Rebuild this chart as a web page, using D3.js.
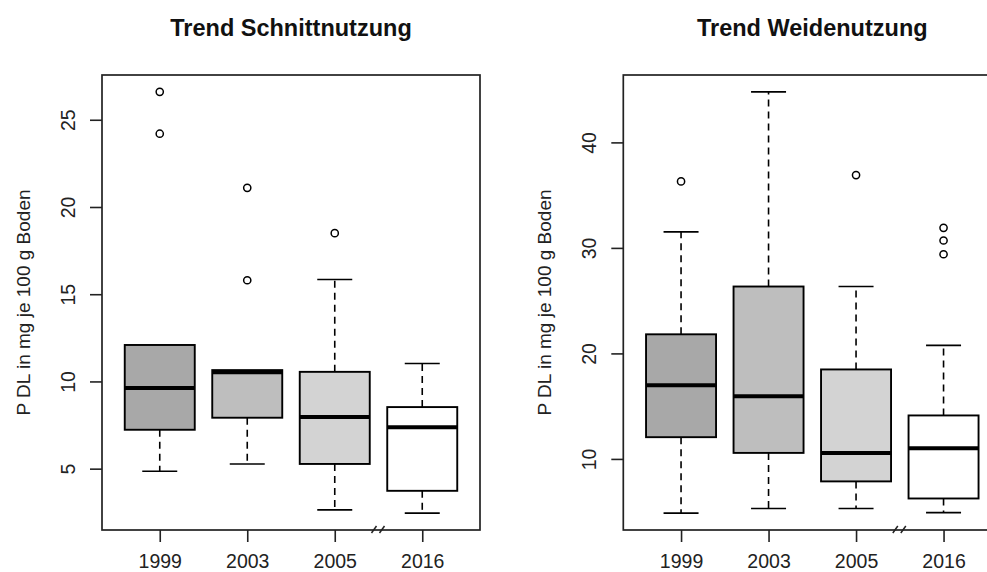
<!DOCTYPE html>
<html>
<head>
<meta charset="utf-8">
<script src="https://cdn.jsdelivr.net/npm/d3@7"></script>
<style>
  body { margin: 0; background: #fff; }
  svg { display: block; font-family: "Liberation Sans", Arial, sans-serif; }
</style>
</head>
<body>
<script>
// years on the x axis
const years = ["1999", "2003", "2005", "2016"]
const boxFill = ["#a8a8a8", "#bebebe", "#d3d3d3", "#ffffff"]

// Schnittnutzung (left)
const schnittLow  = [4.85, 5.27, 2.64, 2.45]
const schnittQ1   = [7.23, 7.92, 5.27, 3.73]
const schnittMed  = [9.63, 10.52, 7.96, 7.38]
const schnittQ3   = [12.09, 10.65, 10.55, 8.53]
const schnittHigh = [12.09, 10.65, 15.84, 11.03]
const schnittOut  = [[26.6, 24.2], [21.1, 15.8], [18.5], []]
const schnittTicks = [5, 10, 15, 20, 25]

// Weidenutzung (right)
const weideLow  = [4.86, 5.3, 5.3, 4.91]
const weideQ1   = [12.06, 10.57, 7.87, 6.25]
const weideMed  = [16.98, 15.93, 10.57, 11.01]
const weideQ3   = [21.81, 26.34, 18.48, 14.12]
const weideHigh = [31.52, 44.79, 26.34, 20.76]
const weideOut  = [[36.3], [], [36.9], [31.9, 30.7, 29.4]]
const weideTicks = [10, 20, 30, 40]

const W = 987, H = 572
const panelW = 378, plotTop = 75, plotBottom = 530

var svg = d3.select('body').append('svg')
    .attr('width', W)
    .attr('height', H)

function boxplot(left, title, low, q1, med, q3, high, outs, ticks) {
  var g = svg.append('g').attr('transform', `translate(${left},0)`)

  // R style: range of data extended by 4%
  var all = low.concat(high, outs.flat())
  var mn = d3.min(all), mx = d3.max(all)
  var pad = (mx - mn) * 0.04

  var x = d3.scaleLinear().domain([0.34, 4.66]).range([0, panelW])
  var y = d3.scaleLinear().domain([mn - pad, mx + pad]).range([plotBottom, plotTop])

  var bw = x(1.4) - x(1)   // half box width (boxwex 0.8)
  var sw = bw / 2          // half staple width

  var boxes = g.selectAll('g.box')
    .data(years.map((yr, i) => ({ i: i, lo: low[i], q1: q1[i], med: med[i], q3: q3[i], hi: high[i], out: outs[i] })))
    .enter().append('g')
      .attr('class', 'box')
      .attr('transform', d => `translate(${x(d.i + 1)},0)`)

  // dashed whiskers
  boxes.append('line')
    .attr('y1', d => y(d.q3)).attr('y2', d => y(d.hi))
    .attr('stroke', '#000').attr('stroke-width', 1.6).attr('stroke-dasharray', '7,5')
  boxes.append('line')
    .attr('y1', d => y(d.q1)).attr('y2', d => y(d.lo))
    .attr('stroke', '#000').attr('stroke-width', 1.6).attr('stroke-dasharray', '7,5')

  // staples
  boxes.filter(d => d.hi > d.q3).append('line')
    .attr('x1', -sw).attr('x2', sw)
    .attr('y1', d => y(d.hi)).attr('y2', d => y(d.hi))
    .attr('stroke', '#000').attr('stroke-width', 1.6)
  boxes.append('line')
    .attr('x1', -sw).attr('x2', sw)
    .attr('y1', d => y(d.lo)).attr('y2', d => y(d.lo))
    .attr('stroke', '#000').attr('stroke-width', 1.6)

  boxes.append('rect')
    .attr('x', -bw).attr('width', 2 * bw)
    .attr('y', d => y(d.q3)).attr('height', d => y(d.q1) - y(d.q3))
    .attr('fill', d => boxFill[d.i])
    .attr('stroke', '#000').attr('stroke-width', 1.9)

  boxes.append('line')
    .attr('x1', -bw).attr('x2', bw)
    .attr('y1', d => y(d.med)).attr('y2', d => y(d.med))
    .attr('stroke', '#000').attr('stroke-width', 4)

  boxes.selectAll('circle')
    .data(d => d.out)
    .enter().append('circle')
      .attr('cy', v => y(v))
      .attr('r', 3.6)
      .attr('fill', 'none')
      .attr('stroke', '#000').attr('stroke-width', 1.5)

  // frame
  g.append('rect')
    .attr('x', 0).attr('y', plotTop)
    .attr('width', panelW).attr('height', plotBottom - plotTop)
    .attr('fill', 'none').attr('stroke', '#222').attr('stroke-width', 1.7)

  // axes
  var ya = g.append('g').call(d3.axisLeft(y).tickValues(ticks).tickSize(12))
  ya.select('.domain').remove()
  ya.selectAll('line').attr('stroke', '#222').attr('stroke-width', 1.6)
  ya.selectAll('text')
    .attr('x', 0).attr('y', -27).attr('dy', 0)
    .attr('transform', 'rotate(-90)')
    .attr('text-anchor', 'middle')
    .attr('font-size', 19.5)
    .attr('fill', '#222')
  ya.attr('font-family', null).attr('font-size', null)

  var xa = g.append('g').attr('transform', `translate(0,${plotBottom})`)
    .call(d3.axisBottom(x).tickValues([1, 2, 3, 4]).tickFormat(i => years[i - 1]).tickSize(12))
  xa.select('.domain').remove()
  xa.selectAll('line').attr('stroke', '#222').attr('stroke-width', 1.6)
  xa.selectAll('text')
    .attr('y', 38).attr('dy', 0)
    .attr('font-size', 19.5)
    .attr('fill', '#222')
  xa.attr('font-family', null).attr('font-size', null)

  // axis break between 2005 and 2016
  var bx = x(3.5)
  ;[-4.5, 3.5].forEach(function(o) {
    g.append('line')
      .attr('x1', bx + o - 2.5).attr('y1', plotBottom + 3)
      .attr('x2', bx + o + 2.5).attr('y2', plotBottom - 4)
      .attr('stroke', '#222').attr('stroke-width', 1.5)
  })

  // labels
  g.append('text')
    .attr('transform', `translate(-72,${(plotTop + plotBottom) / 2}) rotate(-90)`)
    .attr('text-anchor', 'middle')
    .attr('font-size', 19)
    .attr('fill', '#222')
    .text('P DL in mg je 100 g Boden')

  g.append('text')
    .attr('x', panelW / 2).attr('y', 36)
    .attr('text-anchor', 'middle')
    .attr('font-size', 23.5).attr('font-weight', 'bold')
    .attr('fill', '#111')
    .text(title)
}

boxplot(102, 'Trend Schnittnutzung', schnittLow, schnittQ1, schnittMed, schnittQ3, schnittHigh, schnittOut, schnittTicks)
boxplot(623.3, 'Trend Weidenutzung', weideLow, weideQ1, weideMed, weideQ3, weideHigh, weideOut, weideTicks)
</script>
</body>
</html>
